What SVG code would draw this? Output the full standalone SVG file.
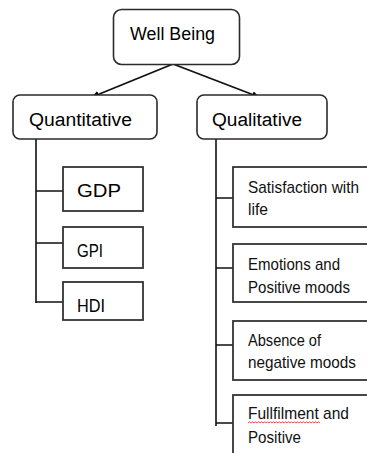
<svg xmlns="http://www.w3.org/2000/svg" width="367" height="453" viewBox="0 0 367 453">
<style>
.rb{fill:#fff;stroke:#2b2b2b;stroke-width:1.6}
.sb{fill:#fff;stroke:#333;stroke-width:1.8}
.t{font-family:"Liberation Sans",Arial,sans-serif;font-size:18px;fill:#000}
.s{font-family:"Liberation Sans",Arial,sans-serif;font-size:17px;fill:#111}
.c{fill:none;stroke:#111;stroke-width:1.6}
</style>
<defs>
<marker id="ah" viewBox="0 0 10 10" refX="10" refY="5" markerWidth="7" markerHeight="7" orient="auto" markerUnits="userSpaceOnUse">
<path d="M0,0 L10,5 L0,10 z" fill="#000"/>
</marker>
</defs>
<rect width="367" height="453" fill="#fff"/>
<g id="connectors">
<line class="c" x1="173" y1="64" x2="92" y2="97" marker-end="url(#ah)" style="stroke-width:1.8"/>
<line class="c" x1="173" y1="64" x2="259" y2="97" marker-end="url(#ah)" style="stroke-width:1.8"/>
<path class="c" d="M36,139 V303 M36,191 H63 M36,243 H63 M36,302 H63"/>
<path class="c" d="M216,139 V426 M216,198 H233 M216,268 H233 M216,345 H233 M216,423 H233"/>
</g>
<g id="wellbeing">
<rect class="rb" x="113.5" y="9.5" width="126" height="55" rx="8"/>
<text class="t" x="130" y="40" textLength="85" lengthAdjust="spacingAndGlyphs">Well Being</text>
</g>
<g id="quantitative">
<rect class="rb" x="13" y="95" width="144" height="44" rx="7"/>
<text class="t" x="29" y="126" textLength="103" lengthAdjust="spacingAndGlyphs">Quantitative</text>
</g>
<g id="qualitative">
<rect class="rb" x="197" y="95" width="130" height="44" rx="7"/>
<text class="t" x="212" y="126" textLength="90" lengthAdjust="spacingAndGlyphs">Qualitative</text>
</g>
<g id="gdp">
<rect class="sb" x="63" y="167" width="80" height="44"/>
<text class="t" x="77" y="197" textLength="44" lengthAdjust="spacingAndGlyphs">GDP</text>
</g>
<g id="gpi">
<rect class="sb" x="63" y="227" width="80" height="41"/>
<text class="t" x="77" y="257" textLength="26" lengthAdjust="spacingAndGlyphs">GPI</text>
</g>
<g id="hdi">
<rect class="sb" x="63" y="282" width="80" height="38"/>
<text class="t" x="77" y="312" textLength="28" lengthAdjust="spacingAndGlyphs">HDI</text>
</g>
<g id="satisfaction">
<rect class="sb" x="233" y="167" width="140" height="60"/>
<text class="s" x="248" y="193" textLength="111" lengthAdjust="spacingAndGlyphs">Satisfaction with</text>
<text class="s" x="248" y="215" textLength="20" lengthAdjust="spacingAndGlyphs">life</text>
</g>
<g id="emotions">
<rect class="sb" x="233" y="244" width="140" height="58"/>
<text class="s" x="248" y="270" textLength="92" lengthAdjust="spacingAndGlyphs">Emotions and</text>
<text class="s" x="248" y="293" textLength="102" lengthAdjust="spacingAndGlyphs">Positive moods</text>
</g>
<g id="absence">
<rect class="sb" x="233" y="321" width="140" height="59"/>
<text class="s" x="248" y="346" textLength="73" lengthAdjust="spacingAndGlyphs">Absence of</text>
<text class="s" x="248" y="368" textLength="108" lengthAdjust="spacingAndGlyphs">negative moods</text>
</g>
<g id="fullfilment">
<rect class="sb" x="233" y="395" width="140" height="70"/>
<text class="s" x="248" y="419" textLength="101" lengthAdjust="spacingAndGlyphs">Fullfilment and</text>
<text class="s" x="248" y="443" textLength="53" lengthAdjust="spacingAndGlyphs">Positive</text>
<path d="M248,423 l1.5,-1.2 l1.5,1.2 l1.5,-1.2 l1.5,1.2 l1.5,-1.2 l1.5,1.2 l1.5,-1.2 l1.5,1.2 l1.5,-1.2 l1.5,1.2 l1.5,-1.2 l1.5,1.2 l1.5,-1.2 l1.5,1.2 l1.5,-1.2 l1.5,1.2 l1.5,-1.2 l1.5,1.2 l1.5,-1.2 l1.5,1.2 l1.5,-1.2 l1.5,1.2 l1.5,-1.2 l1.5,1.2 l1.5,-1.2 l1.5,1.2 l1.5,-1.2 l1.5,1.2 l1.5,-1.2 l1.5,1.2 l1.5,-1.2 l1.5,1.2 l1.5,-1.2 l1.5,1.2 l1.5,-1.2 l1.5,1.2 l1.5,-1.2 l1.5,1.2 l1.5,-1.2 l1.5,1.2 l1.5,-1.2 l1.5,1.2 l1.5,-1.2 l1.5,1.2 l1.5,-1.2 l1.5,1.2 l1.5,-1.2 l1.5,1.2" fill="none" stroke="#e02020" stroke-width="0.8"/>
</g>
</svg>
